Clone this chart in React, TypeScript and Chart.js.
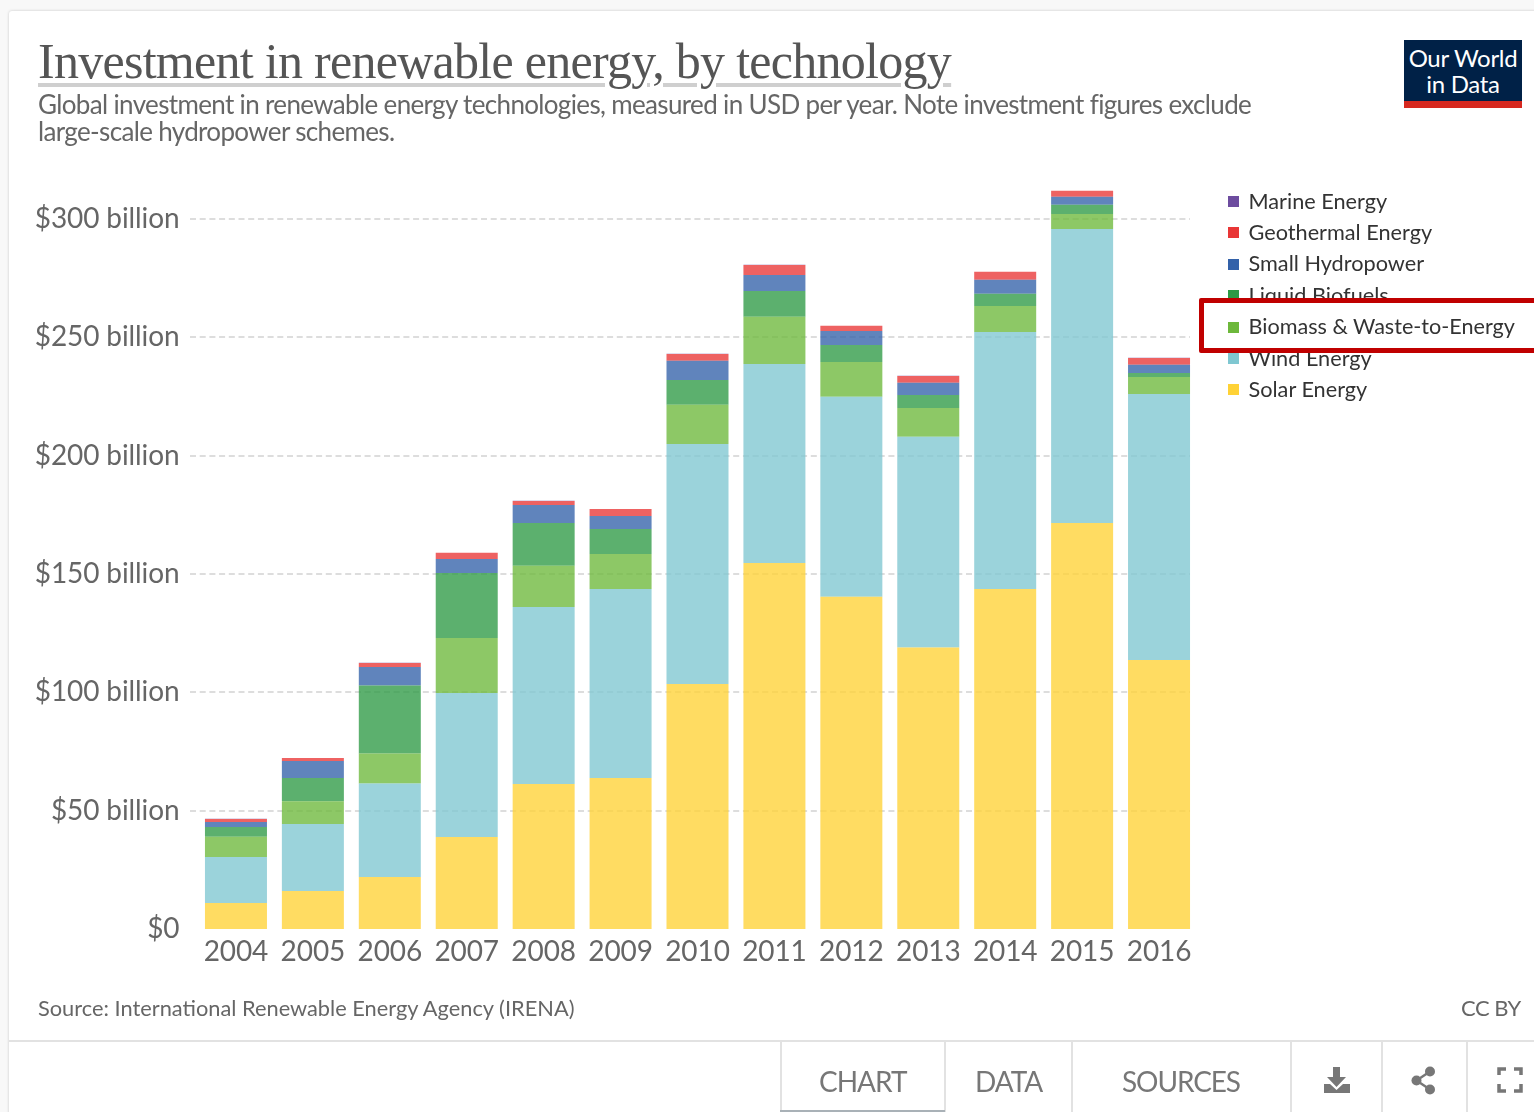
import React, { useEffect, useRef } from "react";
import { Chart, registerables } from "chart.js";

Chart.register(...registerables);

const years = ["2004","2005","2006","2007","2008","2009","2010","2011","2012","2013","2014","2015","2016"];
const solar = [11, 16, 22, 38.9, 61.3, 63.8, 103.5, 154.6, 140.3, 118.9, 143.6, 171.5, 113.6];
const wind = [19.4, 28.4, 39.5, 60.8, 74.7, 79.8, 101.4, 84.1, 84.5, 89, 108.6, 124.2, 112.4];
const biomass = [8.6, 9.6, 12.6, 23.2, 17.4, 14.8, 16.5, 19.9, 14.7, 12.2, 11, 6.3, 7.2];
const liquid = [4.1, 9.8, 28.8, 27.5, 18.1, 10.6, 10.5, 10.9, 7.2, 5.5, 5.1, 3.9, 1.7];
const smallHydro = [2.1, 7.2, 7.8, 5.9, 7.6, 5.5, 8.1, 6.8, 5.9, 5.1, 5.9, 3.4, 3.4];
const geothermal = [1.3, 1.2, 1.7, 2.6, 1.7, 2.9, 2.9, 4.2, 2.2, 2.9, 3.4, 2.5, 2.9];
const marine = [0.05, 0.05, 0.05, 0.05, 0.05, 0.05, 0.05, 0.05, 0.05, 0.05, 0.05, 0.05, 0.05];
const yTicks = [0, 50, 100, 150, 200, 250, 300];

const seriesNames = ["Marine Energy","Geothermal Energy","Small Hydropower","Liquid Biofuels","Biomass & Waste-to-Energy","Wind Energy","Solar Energy"];
const seriesColors = ["#6D4C9F","#E93636","#3361A9","#2E9A45","#6DB83B","#7FC7D1","#FFD236"];
const seriesValues = [marine, geothermal, smallHydro, liquid, biomass, wind, solar];

const rgba = (hex: string, a: number) => {
  const n = parseInt(hex.slice(1), 16);
  return `rgba(${n >> 16},${(n >> 8) & 255},${n & 255},${a})`;
};

const gridPlugin = {
  id: "owidGrid",
  beforeDraw(chart: any) {
    chart.ctx.letterSpacing = "-0.1px";
  },
  beforeDatasetsDraw(chart: any) {
    const { ctx, scales } = chart;
    ctx.save();
    ctx.strokeStyle = "#dddddd";
    ctx.lineWidth = 2;
    ctx.setLineDash([6, 3.7]);
    yTicks.slice(1).forEach((t) => {
      const y = Math.round(scales.y.getPixelForValue(t));
      ctx.beginPath();
      ctx.moveTo(190, y);
      ctx.lineTo(1190, y);
      ctx.stroke();
    });
    ctx.restore();
  },
};

const abs = (left: number, top: number, extra: React.CSSProperties = {}): React.CSSProperties => ({
  position: "absolute", left, top, whiteSpace: "nowrap", ...extra,
});
const lato = "Lato, sans-serif";

export default function App() {
  const ref = useRef<HTMLCanvasElement>(null);
  useEffect(() => {
    document.body.style.margin = "0";
    const chart = new Chart(ref.current!, {
      type: "bar",
      data: {
        labels: years,
        datasets: seriesNames.map((name, i) => ({
          label: name,
          data: seriesValues[i],
          backgroundColor: rgba(seriesColors[i], 0.78),
          borderWidth: 0,
          barPercentage: 1,
          categoryPercentage: 0.806,
        })).reverse(),
      },
      options: {
        responsive: false,
        animation: false,
        layout: { padding: { left: 0, right: 1534 - 1197.5, top: 0, bottom: 0 } },
        plugins: { legend: { display: false }, tooltip: { enabled: false }, title: { display: false } },
        scales: {
          x: {
            stacked: true,
            grid: { display: false },
            border: { display: false },
            ticks: { color: "#666666", font: { family: lato, size: 28 }, padding: -2, maxRotation: 0, autoSkip: false },
            afterFit: (s: any) => { s.height = 1112 - 929; },
          },
          y: {
            stacked: true,
            min: 0,
            max: 381.1,
            grid: { display: false },
            border: { display: false },
            afterFit: (s: any) => { s.width = 197.5; },
            afterBuildTicks: (s: any) => { s.ticks = yTicks.map((v) => ({ value: v })); },
            ticks: {
              color: "#666666",
              font: { family: lato, size: 28 },
              padding: 10,
              callback: (v: any) => (v === 0 ? "$0" : `$${v} billion`),
            },
          },
        },
      },
      plugins: [gridPlugin],
    } as any);
    return () => chart.destroy();
  }, []);

  const tabColor = "#777777";
  return (
    <div style={{ position: "relative", width: 1534, height: 1112, overflow: "hidden", background: "#f8f8f8", fontFamily: lato }}>
      <div style={{ position: "absolute", left: 9, top: 11, width: 1540, height: 1110, background: "#fff", borderRadius: 3, boxShadow: "0 0 3px rgba(0,0,0,0.2)" }} />
      <canvas ref={ref} width={1534} height={1112} style={{ position: "absolute", left: 0, top: 0, display: "block" }} />

      <div style={abs(38, 31, { fontFamily: "'Liberation Serif', serif", fontSize: 50, color: "#555555", textDecoration: "underline", textDecorationColor: "#cfcfcf", textDecorationThickness: 4, textUnderlineOffset: 5, letterSpacing: -0.72, lineHeight: "60px" })}>
        Investment in renewable energy, by technology
      </div>
      <div style={abs(38, 91, { fontSize: 26, lineHeight: "27px", color: "#666666", letterSpacing: -0.65 })}>
        Global investment in renewable energy technologies, measured in USD per year. Note investment figures exclude
        <br />
        large-scale hydropower schemes.
      </div>

      <div style={{ position: "absolute", left: 1404, top: 40, width: 118, height: 68, background: "#002147" }}>
        <div style={{ position: "absolute", left: 0, right: 0, bottom: 0, height: 7, background: "#D6281F" }} />
        <div style={{ position: "absolute", left: 0, right: 0, top: 5, textAlign: "center", color: "#fff", fontSize: 24, lineHeight: "26px", letterSpacing: -0.3 }}>
          Our World<br />in Data
        </div>
      </div>

      {seriesNames.map((name, i) => (
        <React.Fragment key={name}>
          <div style={{ position: "absolute", left: 1228, top: 196 + i * 31.4, width: 11, height: 11, background: seriesColors[i] }} />
          <div style={abs(1248.5, 185.5 + i * 31.4, { fontSize: 21.7, lineHeight: "30px", color: "#333333" })}>{name}</div>
        </React.Fragment>
      ))}
      <div style={{ position: "absolute", left: 1199, top: 298, width: 340, height: 55, boxSizing: "border-box", border: "5px solid #C00000", borderRadius: 2, background: "#fff" }} />
      <div style={{ position: "absolute", left: 1228, top: 321.5, width: 11, height: 11, background: seriesColors[4] }} />
      <div style={abs(1248.5, 310.7, { fontSize: 21.6, lineHeight: "30px", color: "#333333" })}>{seriesNames[4]}</div>

      <div style={abs(38, 994, { fontSize: 21.8, lineHeight: "28px", color: "#666666" })}>Source: International Renewable Energy Agency (IRENA)</div>
      <div style={abs(1461, 994, { fontSize: 22, lineHeight: "28px", color: "#666666", letterSpacing: -0.5 })}>CC BY</div>

      <div style={{ position: "absolute", left: 9, right: 0, top: 1040, height: 2, background: "#e2e2e2" }} />
      {[780, 944, 1071, 1290, 1381, 1466].map((x) => (
        <div key={x} style={{ position: "absolute", left: x, top: 1041, width: 2, height: 71, background: "#e2e2e2" }} />
      ))}
      <div style={{ position: "absolute", left: 780, top: 1110, width: 165, height: 2, background: "#a9b1b7" }} />
      <div style={abs(819, 1064, { fontSize: 28, lineHeight: "34px", color: tabColor, letterSpacing: -1 })}>CHART</div>
      <div style={abs(975, 1064, { fontSize: 28, lineHeight: "34px", color: tabColor, letterSpacing: -1 })}>DATA</div>
      <div style={abs(1122, 1064, { fontSize: 28, lineHeight: "34px", color: tabColor, letterSpacing: -1.1 })}>SOURCES</div>

      <svg style={{ position: "absolute", left: 1322, top: 1066 }} width={30} height={30} viewBox="0 0 30 30">
        <path d="M11 1h7v10h6l-9.5 10L5 11h6z" fill={tabColor} />
        <path d="M2 18h6l6.5 6 6.5-6h7v9H2z" fill={tabColor} />
      </svg>
      <svg style={{ position: "absolute", left: 1410, top: 1066 }} width={30} height={30} viewBox="0 0 30 30">
        <circle cx={6.5} cy={14.5} r={5} fill={tabColor} />
        <circle cx={20} cy={5.5} r={5} fill={tabColor} />
        <circle cx={20} cy={23.5} r={5} fill={tabColor} />
        <path d="M6.5 14.5L20 5.5M6.5 14.5L20 23.5" stroke={tabColor} strokeWidth={2.5} />
      </svg>
      <svg style={{ position: "absolute", left: 1496, top: 1066 }} width={28} height={28} viewBox="0 0 28 28">
        <path d="M3 9V3h7M18 3h7v6M25 18v7h-7M10 25H3v-7" fill="none" stroke={tabColor} strokeWidth={3.5} />
      </svg>
    </div>
  );
}
